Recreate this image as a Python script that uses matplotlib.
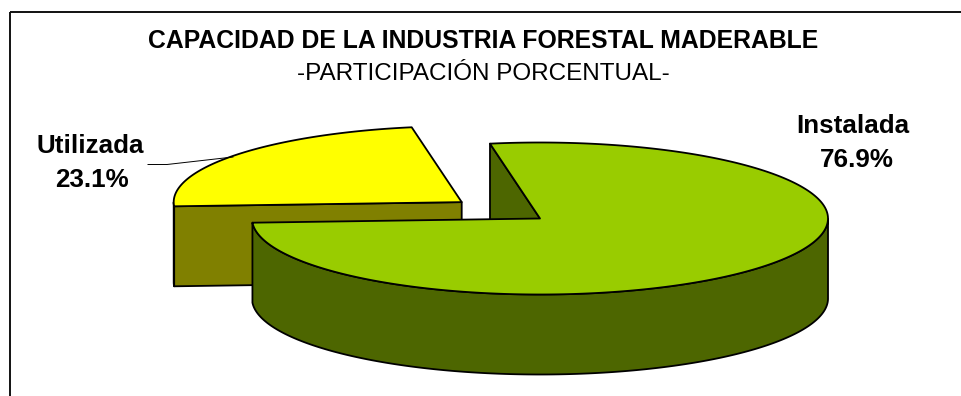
import numpy as np
import matplotlib
matplotlib.use("Agg")
import matplotlib.pyplot as plt
from matplotlib.patches import Polygon, Rectangle

plt.rcParams['font.family'] = ['Liberation Sans', 'DejaVu Sans']

categories = ["Instalada", "Utilizada"]
shares = [76.9, 23.1]
top_colors = ["#99CC00", "#FFFF00"]
side_colors = ["#4D6600", "#808000"]
explode = [0.0, 0.347]

title = "CAPACIDAD DE LA INDUSTRIA FORESTAL MADERABLE"
subtitle = "-PARTICIPACIÓN PORCENTUAL-"

# pie geometry, in figure pixels
cx, cy = 540.0, 218.5
rx, ry = 288.0, 76.0
depth = 80.0
start_angle = 100.0

fig = plt.figure(figsize=(9.62, 3.96), dpi=100)
ax = fig.add_axes([0, 0, 1, 1])
ax.set_xlim(0, 962)
ax.set_ylim(396, 0)
ax.axis('off')

# frame, right and bottom run off the picture
ax.add_patch(Rectangle((10, 12), 1000, 400, fill=False, edgecolor='#111111', linewidth=1.4))


def rim(center, angles):
    t = np.radians(angles)
    return np.column_stack([center[0] + rx * np.cos(t), center[1] - ry * np.sin(t)])


# slice spans, clockwise from the start angle
spans = []
a = start_angle
for s in shares:
    spans.append((a, a - s / 100 * 360))
    a = spans[-1][1]

edge = dict(edgecolor='black', linewidth=1.3, joinstyle='round')
down = np.array([0, depth])

# small slice goes first, the big one overlaps it
for i in [1, 0]:
    a0, a1 = spans[i]
    mid = np.radians((a0 + a1) / 2)
    c = np.array([cx + explode[i] * rx * np.cos(mid), cy - explode[i] * ry * np.sin(mid)])

    # cut faces, only the ones turned to the viewer
    for ang, normal in ((a0, a0 + 90), (a1, a1 - 90)):
        if np.sin(np.radians(normal)) < 0:
            p = rim(c, np.array([ang]))[0]
            ax.add_patch(Polygon([c, p, p + down, c + down], facecolor=side_colors[i], **edge))

    # outer wall, only the front of the rim shows
    sweep = np.linspace(a1, a0, 600)
    front = sweep[np.sin(np.radians(sweep)) < 0]
    arc = rim(c, front)
    ax.add_patch(Polygon(np.vstack([arc, (arc + down)[::-1]]), facecolor=side_colors[i], **edge))

    # top face
    ax.add_patch(Polygon(np.vstack([[c], rim(c, np.linspace(a0, a1, 300))]), facecolor=top_colors[i], **edge))

# leader line of the small slice
ax.plot([148, 167, 233], [164.5, 164.5, 157], color='black', linewidth=0.7)

ax.text(483, 41, title, ha='center', va='center', fontsize=17.8, fontweight='bold')
ax.text(483, 74, subtitle, ha='center', va='center', fontsize=17.5)

ax.text(853, 126, categories[0], ha='center', va='center', fontsize=18.7, fontweight='bold')
ax.text(857, 160, f"{shares[0]:.1f}%", ha='center', va='center', fontsize=18.7, fontweight='bold')
ax.text(90, 146, categories[1], ha='center', va='center', fontsize=18.7, fontweight='bold')
ax.text(92, 180, f"{shares[1]:.1f}%", ha='center', va='center', fontsize=18.7, fontweight='bold')

fig.savefig('out.png', dpi=100)
